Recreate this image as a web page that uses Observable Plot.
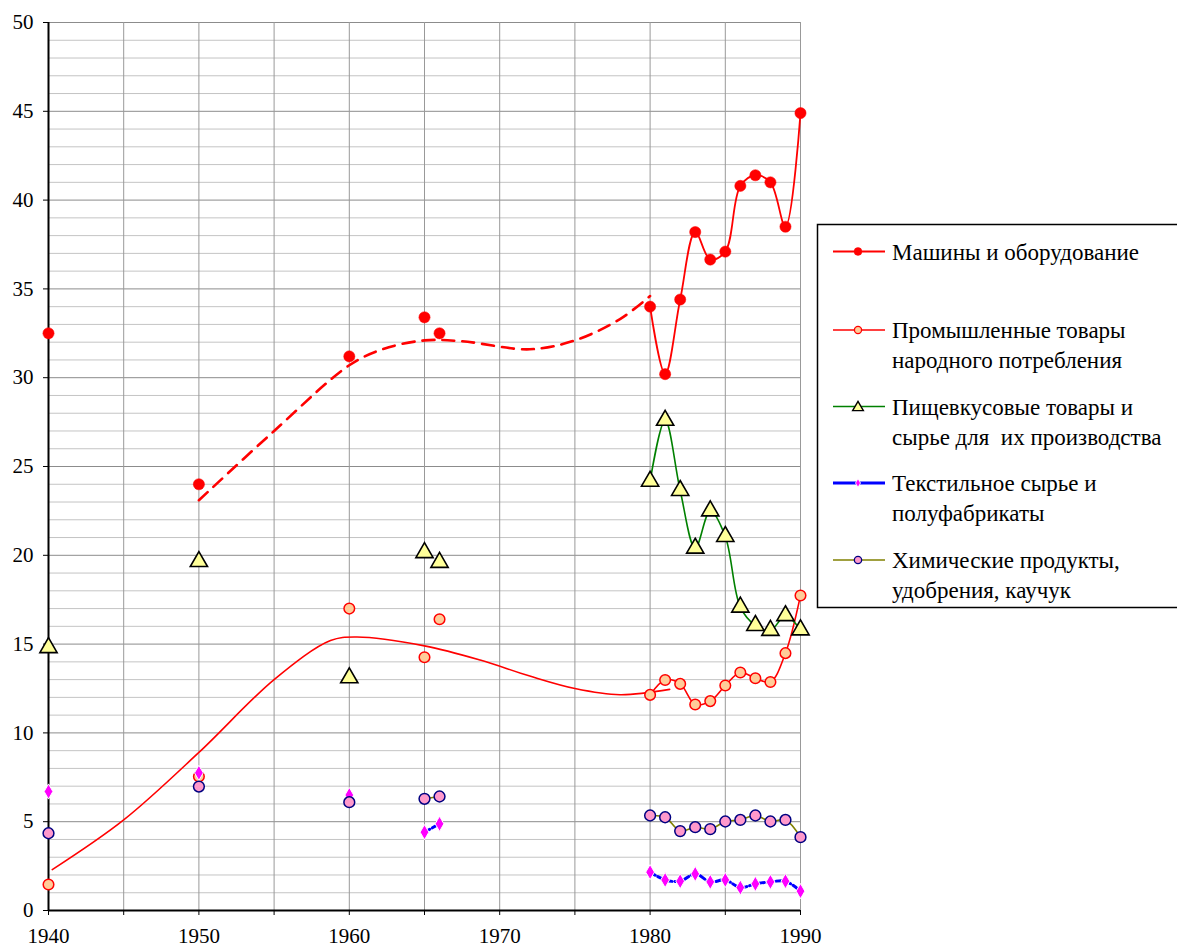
<!DOCTYPE html>
<html>
<head>
<meta charset="utf-8">
<script src="https://cdn.jsdelivr.net/npm/d3@7"></script>
<script src="https://cdn.jsdelivr.net/npm/@observablehq/plot@0.6"></script>
<style>
html, body { margin: 0; padding: 0; background: white; overflow: hidden; }
#chart { position: relative; width: 1177px; height: 947px; font-family: "Liberation Serif", "Times New Roman", Times, serif; }
#chart svg, #chart svg text { font-family: "Liberation Serif", "Times New Roman", Times, serif !important; }
</style>
</head>
<body>
<div id="chart"></div>
<script>
// ---- data ----
const years = [1940, 1950, 1960, 1965, 1966, 1980, 1981, 1982, 1983, 1984, 1985, 1986, 1987, 1988, 1989, 1990];
const machinery = [32.5, 24.0, 31.2, 33.4, 32.5, 34.0, 30.2, 34.4, 38.2, 36.65, 37.1, 40.8, 41.4, 41.0, 38.5, 44.9];
const consumer = [1.46, 7.54, 17.0, 14.26, 16.4, 12.14, 12.98, 12.76, 11.6, 11.79, 12.67, 13.4, 13.08, 12.87, 14.49, 17.74];
const food = [14.8, 19.65, 13.1, 20.15, 19.6, 24.17, 27.6, 23.65, 20.4, 22.5, 21.06, 17.08, 16.05, 15.77, 16.6, 15.8];
const textile = [6.7, 7.75, 6.5, 4.41, 4.88, 2.16, 1.72, 1.65, 2.06, 1.61, 1.72, 1.29, 1.5, 1.61, 1.65, 1.09];
const chemical = [4.35, 6.98, 6.1, 6.29, 6.42, 5.35, 5.25, 4.47, 4.69, 4.58, 5.01, 5.1, 5.35, 5.01, 5.1, 4.13];

// trend lines
const machTrendYears = [1950, 1955, 1960, 1962.2, 1965, 1967.5, 1972, 1975, 1978, 1980];
const machTrend = [23.1, 27.0, 30.7, 31.6, 32.1, 32.05, 31.6, 32.1, 33.3, 34.6];
const consTrendYears = [1940.25, 1945, 1950, 1955, 1958.75, 1960.5, 1965, 1968.7, 1972, 1975, 1978, 1981.3];
const consTrend = [2.3, 5.1, 8.9, 13.0, 15.2, 15.4, 14.9, 14.1, 13.2, 12.5, 12.15, 12.45];

const seriesNames = [
  ["Машины и оборудование"],
  ["Промышленные товары", "народного потребления"],
  ["Пищевкусовые товары и", "сырье для  их производства"],
  ["Текстильное сырье и", "полуфабрикаты"],
  ["Химические продукты,", "удобрения, каучук"]
];
const yTicks = [0, 5, 10, 15, 20, 25, 30, 35, 40, 45, 50];
const xTicks = [1940, 1945, 1950, 1955, 1960, 1965, 1970, 1975, 1980, 1985, 1990];

// ---- tables ----
const rows = years.map((year, i) => ({
  year, machinery: machinery[i], consumer: consumer[i], food: food[i],
  textile: textile[i], chemical: chemical[i],
  segLate: year >= 1980 ? "late" : null,
  segMid: year >= 1980 ? "late" : (year >= 1965 ? "mid" : null)
}));
const lateRows = rows.filter(d => d.segLate);
const midLateRows = rows.filter(d => d.segMid);
const machTrendRows = machTrendYears.map((x, i) => ({x, y: machTrend[i]}));
const consTrendRows = consTrendYears.map((x, i) => ({x, y: consTrend[i]}));

const minorY = d3.range(1, 50).filter(v => v % 5 !== 0);
const majorY = yTicks;

const SERIF = '"Liberation Serif", "Times New Roman", Times, serif';
const RED = "#ff0000";
const curve = "catmull-rom";

const plot = Plot.plot({
  width: 1177,
  height: 947,
  marginLeft: 48,
  marginRight: 377,
  marginTop: 22,
  marginBottom: 37,
  x: {domain: [1940, 1990]},
  y: {domain: [0, 50]},
  style: {fontFamily: SERIF, fontSize: "21px", background: "white", color: "black", overflow: "visible"},
  marks: [
    Plot.ruleY(minorY, {stroke: "#c4c4c4", strokeWidth: 1}),
    Plot.ruleY(majorY, {stroke: "#8c8c8c", strokeWidth: 1}),
    Plot.ruleX(xTicks.filter(d => d > 1940), {stroke: "#999999", strokeWidth: 1}),
    Plot.axisY({ticks: yTicks, tickSize: 5, tickPadding: 10, label: null, fontSize: 21, tickFormat: d => String(d)}),
    Plot.axisX({ticks: xTicks, tickSize: 5, tickPadding: 13, label: null, fontSize: 21, tickFormat: d => d % 10 === 0 ? String(d) : ""}),
    Plot.ruleX([1940], {stroke: "black", strokeWidth: 2}),
    Plot.ruleY([0], {stroke: "black", strokeWidth: 2}),

    // trend lines
    Plot.line(machTrendRows, {x: "x", y: "y", stroke: RED, strokeWidth: 2.6, strokeDasharray: "12,8", curve}),
    Plot.line(consTrendRows, {x: "x", y: "y", stroke: RED, strokeWidth: 1.6, curve}),

    // series lines
    Plot.line(lateRows, {x: "year", y: "machinery", z: "segLate", stroke: RED, strokeWidth: 1.8, curve}),
    Plot.line(lateRows, {x: "year", y: "consumer", z: "segLate", stroke: RED, strokeWidth: 1.6, curve}),
    Plot.line(lateRows, {x: "year", y: "food", z: "segLate", stroke: "#008000", strokeWidth: 1.6, curve}),
    Plot.line(midLateRows, {x: "year", y: "textile", z: "segMid", stroke: "#0000ff", strokeWidth: 3, strokeDasharray: "6,3", curve}),
    Plot.line(midLateRows, {x: "year", y: "chemical", z: "segMid", stroke: "#808000", strokeWidth: 1.6, curve}),

    // markers
    Plot.dot(rows, {x: "year", y: "machinery", r: 5.6, fill: RED, stroke: RED, strokeWidth: 0.5}),
    Plot.dot(rows, {x: "year", y: "consumer", r: 5.3, fill: "#ffcc99", stroke: RED, strokeWidth: 1.5}),
    Plot.dot(rows, {x: "year", y: "food", symbol: "triangle", r: 6.4, fill: "#ffff99", stroke: "black", strokeWidth: 1.6}),
    Plot.dot(rows, {x: "year", y: "textile", symbol: "diamond", r: 4.6, fill: "#ff00ff", stroke: "white", strokeWidth: 1}),
    Plot.dot(rows, {x: "year", y: "chemical", r: 5.4, fill: "#ff99cc", stroke: "#000080", strokeWidth: 1.5})
  ]
});

document.getElementById("chart").appendChild(plot);

// ---- legend drawn into the same SVG ----
const svg = d3.select(plot);
const lg = svg.append("g").attr("class", "legend")
  .attr("text-anchor", "start")
  .attr("font-size", 23);
lg.append("rect").attr("x", 817.5).attr("y", 224.5).attr("width", 420).attr("height", 383)
  .attr("fill", "white").attr("stroke", "black").attr("stroke-width", 1.5);

const entryY = [251.5, 330, 406.5, 483, 560];
const lineStyles = [
  {stroke: RED, w: 1.8}, {stroke: RED, w: 1.6}, {stroke: "#008000", w: 1.6},
  {stroke: "#0000ff", w: 3}, {stroke: "#808000", w: 1.6}
];
const symbols = [d3.symbolCircle, d3.symbolCircle, d3.symbolTriangle, d3.symbolDiamond, d3.symbolCircle];
const symSize = [48, 40, 50, 22, 42];
const symFill = [RED, "#ffcc99", "#ffff99", "#ff00ff", "#ff99cc"];
const symStroke = [RED, RED, "black", "white", "#000080"];
const symSW = [0.5, 1.3, 1.4, 0.8, 1.3];

seriesNames.forEach((lines, i) => {
  const y = entryY[i];
  lg.append("line").attr("x1", 833).attr("x2", 885).attr("y1", y).attr("y2", y)
    .attr("stroke", lineStyles[i].stroke).attr("stroke-width", lineStyles[i].w);
  lg.append("path").attr("d", d3.symbol(symbols[i], symSize[i])())
    .attr("transform", `translate(858,${y + (i === 2 ? 1 : 0)})`)
    .attr("fill", symFill[i]).attr("stroke", symStroke[i]).attr("stroke-width", symSW[i]);
  lines.forEach((t, j) => {
    lg.append("text").attr("x", 892).attr("y", y + 8 + j * 30)
      .attr("text-anchor", "start")
      .attr("fill", "black").text(t);
  });
});
</script>
</body>
</html>
